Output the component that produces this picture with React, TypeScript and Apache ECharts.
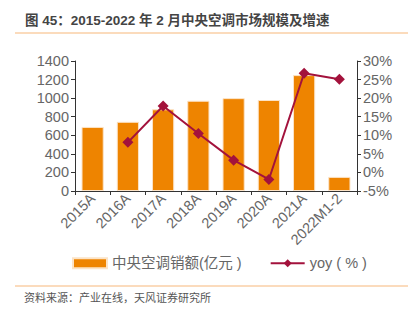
import React, { useEffect, useRef } from "react";
import * as echarts from "echarts";

const categories = ["2015A", "2016A", "2017A", "2018A", "2019A", "2020A", "2021A", "2022M1-2"];
const salesValues = [690, 745, 880, 972, 1000, 980, 1248, 152];
const yoyValues: (number | null)[] = [null, 8.1, 17.9, 10.5, 3.3, -1.9, 26.7, 25.1];
const leftTicks = { min: 0, max: 1400, interval: 200 };
const rightTicks = { min: -5, max: 30, interval: 5 };
const titleText = "图 45：2015-2022 年 2 月中央空调市场规模及增速";
const sourceText = "资料来源：产业在线，天风证券研究所";
const barName = "中央空调销额(亿元 )";
const lineName = "yoy ( % )";

const FONT = "'Liberation Sans', Arial, 'Noto Sans CJK SC', sans-serif";

export default function App() {
  const ref = useRef<HTMLDivElement>(null);
  useEffect(() => {
    if (!ref.current) return;
    const chart = echarts.init(ref.current, null, { renderer: "svg" });
    chart.setOption({
      animation: false,
      backgroundColor: "#fff",
      textStyle: { fontFamily: FONT },
      grid: { left: 75, right: 60, top: 61, bottom: 131 },
      graphic: [
        {
          type: "text",
          left: 25,
          top: 14,
          style: { text: titleText, fontSize: 13.5, fontWeight: "bold", fill: "#444", fontFamily: FONT },
        },
        {
          type: "line",
          shape: { x1: 15, y1: 33, x2: 408, y2: 33 },
          style: { stroke: "#F7B77A", lineWidth: 1.2 },
        },
        {
          type: "line",
          shape: { x1: 15, y1: 286, x2: 408, y2: 286 },
          style: { stroke: "#F7B77A", lineWidth: 1 },
        },
        {
          type: "text",
          left: 24,
          top: 292,
          style: { text: sourceText, fontSize: 11, fill: "#555", fontFamily: FONT },
        },
      ],
      legend: {
        top: 251,
        left: 67,
        itemGap: 28,
        textStyle: { fontSize: 14.5, color: "#666", fontFamily: FONT },
        data: [
          { name: barName, icon: "rect", itemWidth: 31, itemHeight: 8 },
          { name: lineName },
        ],
        itemWidth: 34,
        itemHeight: 10,
      },
      xAxis: {
        type: "category",
        data: categories,
        axisLine: { lineStyle: { color: "#333", width: 1.2 } },
        axisTick: { show: true, alignWithLabel: false, lineStyle: { color: "#333" }, length: 4 },
        axisLabel: { rotate: 45, fontSize: 14.5, color: "#666", margin: 5, interval: 0, fontFamily: FONT },
      },
      yAxis: [
        {
          type: "value",
          min: leftTicks.min,
          max: leftTicks.max,
          interval: leftTicks.interval,
          splitLine: { show: false },
          axisLine: { show: true, lineStyle: { color: "#333" } },
          axisTick: { show: true, length: 4, lineStyle: { color: "#333" } },
          axisLabel: { fontSize: 14.5, color: "#666", margin: 6, fontFamily: FONT, formatter: (v: number) => String(v) },
        },
        {
          type: "value",
          min: rightTicks.min,
          max: rightTicks.max,
          interval: rightTicks.interval,
          splitLine: { show: false },
          axisLine: { show: true, lineStyle: { color: "#333" } },
          axisTick: { show: true, length: 4, lineStyle: { color: "#333" } },
          axisLabel: { fontSize: 14.5, color: "#666", margin: 6, formatter: "{value}%", fontFamily: FONT },
        },
      ],
      series: [
        {
          name: barName,
          type: "bar",
          data: salesValues,
          barWidth: "63%",
          itemStyle: { color: "#EE8400", borderColor: "#FCE3C6", borderWidth: 1 },
        },
        {
          name: lineName,
          type: "line",
          yAxisIndex: 1,
          data: yoyValues,
          symbol: "diamond",
          symbolSize: 11,
          lineStyle: { color: "#A3123C", width: 2 },
          itemStyle: { color: "#A3123C" },
        },
      ],
    });
    return () => chart.dispose();
  }, []);
  return <div ref={ref} style={{ width: 417, height: 322, position: "absolute", left: 0, top: 0 }} />;
}
